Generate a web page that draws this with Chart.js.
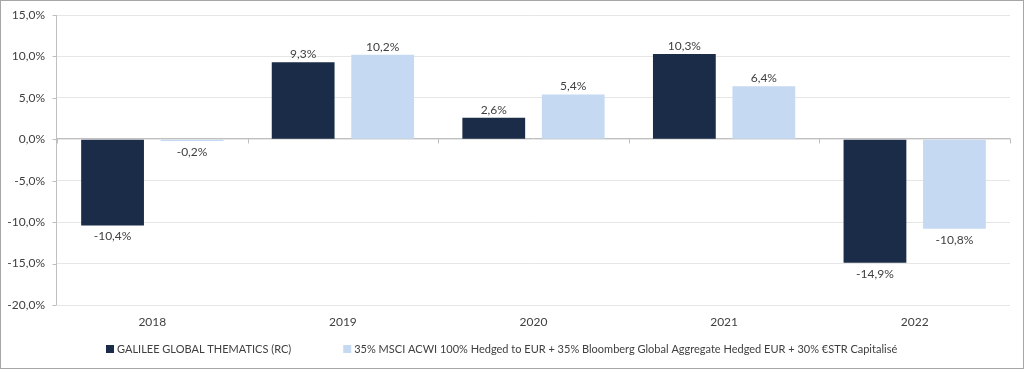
<!DOCTYPE html>
<html>
<head>
<meta charset="utf-8">
<script src="https://cdn.jsdelivr.net/npm/chart.js@4/dist/chart.umd.min.js"></script>
<style>
html,body{margin:0;padding:0;background:#fff;}
#wrap{position:relative;width:1024px;height:369px;}
canvas{display:block;}
</style>
</head>
<body>
<div id="wrap"><canvas id="c" width="1024" height="369"></canvas></div>
<script>
const categories = ['2018','2019','2020','2021','2022'];
const fundName = 'GALILEE GLOBAL THEMATICS (RC)';
const benchName = '35% MSCI ACWI 100% Hedged to EUR + 35% Bloomberg Global Aggregate Hedged EUR + 30% €STR Capitalisé';
const fundValues = [-10.4, 9.3, 2.6, 10.3, -14.9];
const benchValues = [-0.2, 10.2, 5.4, 6.4, -10.8];
const yTicks = [15, 10, 5, 0, -5, -10, -15, -20];

const FONT = 'Lato, "Open Sans", sans-serif';
const TEXT = '#404040';
const fmt = v => v.toFixed(1).replace('.', ',') + '%';

const frame = {
  id: 'frame',
  beforeDraw(chart) {
    const ctx = chart.ctx;
    ctx.save();
    ctx.fillStyle = '#fff';
    ctx.fillRect(0, 0, chart.width, chart.height);
    ctx.restore();
  },
  afterDraw(chart) {
    const ctx = chart.ctx;
    ctx.save();
    ctx.strokeStyle = '#a6a6a6';
    ctx.lineWidth = 1;
    ctx.strokeRect(0.5, 0.5, chart.width - 1, chart.height - 1);
    ctx.restore();
  }
};

const zeroAxis = {
  id: 'zeroAxis',
  beforeDatasetsDraw(chart) {
    const ctx = chart.ctx, x = chart.scales.x, y = chart.scales.y;
    const y0 = Math.floor(y.getPixelForValue(0)) - 0.5;
    ctx.save();
    ctx.strokeStyle = '#bfbfbf';
    ctx.lineWidth = 1;
    ctx.beginPath();
    ctx.moveTo(x.left, y0); ctx.lineTo(x.right, y0);
    const n = categories.length;
    for (let i = 0; i <= n; i++) {
      const px = Math.round(x.left + (x.right - x.left) * i / n) + 0.5;
      ctx.moveTo(px, y0); ctx.lineTo(px, y0 + 5);
    }
    ctx.stroke();
    const xl = Math.round(x.left) - 0.5;
    ctx.beginPath();
    ctx.moveTo(xl, y.top); ctx.lineTo(xl, y.bottom);
    yTicks.forEach(t => {
      const py = Math.round(y.getPixelForValue(t)) + 0.5;
      ctx.moveTo(xl - 4, py); ctx.lineTo(xl, py);
    });
    ctx.stroke();
    ctx.restore();
  }
};

const dataLabels = {
  id: 'dataLabels',
  afterDatasetsDraw(chart) {
    const ctx = chart.ctx;
    ctx.save();
    ctx.font = '12px ' + FONT;
    ctx.fillStyle = TEXT;
    ctx.textAlign = 'center';
    chart.data.datasets.forEach((ds, di) => {
      const meta = chart.getDatasetMeta(di);
      meta.data.forEach((bar, i) => {
        const v = ds.data[i];
        if (v >= 0) {
          ctx.textBaseline = 'bottom';
          ctx.fillText(fmt(v), bar.x, bar.y - 2);
        } else {
          ctx.textBaseline = 'top';
          ctx.fillText(fmt(v), bar.x, bar.y + 5);
        }
      });
    });
    ctx.restore();
  }
};

const customLegend = {
  id: 'customLegend',
  afterDraw(chart) {
    const ctx = chart.ctx;
    ctx.save();
    ctx.font = '11px ' + FONT;
    ctx.textBaseline = 'middle';
    ctx.textAlign = 'left';
    const box = 8, gapBT = 3, gapItem = 52;
    const items = chart.data.datasets.map(ds => ({ text: ds.label, color: ds.backgroundColor, w: ctx.measureText(ds.label).width }));
    const total = items.reduce((s, it) => s + box + gapBT + it.w, 0) + gapItem * (items.length - 1);
    let x = Math.round(chart.width / 2 - 10 - total / 2);
    const yc = 349;
    items.forEach(it => {
      ctx.fillStyle = it.color;
      ctx.fillRect(x, yc - 4, box, box);
      x += box + gapBT;
      ctx.fillStyle = TEXT;
      ctx.fillText(it.text, x, yc);
      x += it.w + gapItem;
    });
    ctx.restore();
  }
};

new Chart(document.getElementById('c'), {
  type: 'bar',
  data: {
    labels: categories,
    datasets: [
      { label: fundName, data: fundValues, backgroundColor: '#1a2c47', categoryPercentage: 0.834, barPercentage: 0.79 },
      { label: benchName, data: benchValues, backgroundColor: '#c5daf2', categoryPercentage: 0.834, barPercentage: 0.79 }
    ]
  },
  options: {
    responsive: false,
    animation: false,
    devicePixelRatio: 1,
    layout: { padding: { left: 0, right: 14, top: 15, bottom: 34 } },
    plugins: {
      legend: { display: false },
      tooltip: { enabled: false }
    },
    scales: {
      x: {
        afterFit(scale) { scale.height = 30; scale.paddingLeft = 0; scale.paddingRight = 0; },
        grid: { display: false, drawTicks: false },
        border: { display: false },
        ticks: { color: TEXT, font: { family: FONT, size: 12 }, padding: 10 }
      },
      y: {
        min: -20, max: 15,
        afterFit(scale) { scale.width = 57; scale.paddingTop = 0; scale.paddingBottom = 0; },
        afterBuildTicks(scale) { scale.ticks = yTicks.map(v => ({ value: v })); },
        grid: { color: '#e6e6e6', drawTicks: false },
        border: { display: false },
        ticks: { color: TEXT, font: { family: FONT, size: 12 }, padding: 12, callback: v => fmt(v) }
      }
    }
  },
  plugins: [frame, zeroAxis, dataLabels, customLegend]
});
</script>
</body>
</html>
